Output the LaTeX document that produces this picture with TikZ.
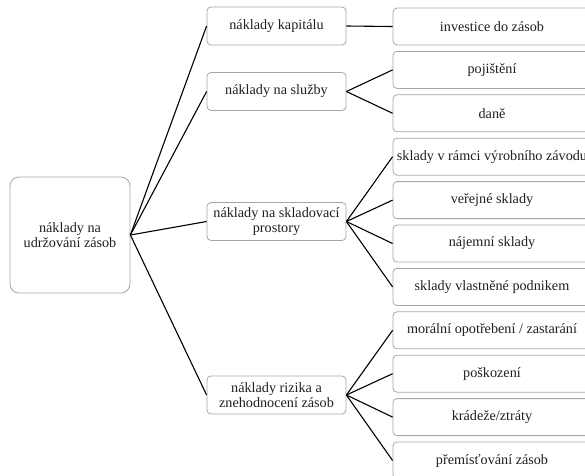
\documentclass[tikz,border=0pt]{standalone}
\usepackage{fontspec}
\setmainfont{Liberation Serif}
\begin{document}
\begin{tikzpicture}[x=1pt,y=-1pt,
  every node/.style={font=\fontsize{14.2}{15.5}\selectfont, text=black!88, align=center, inner sep=0pt},
  rootbox/.style={draw=black!35, line width=0.8pt, rounded corners=9pt, minimum width=120pt, minimum height=116pt},
  midbox/.style={draw=black!35, line width=0.8pt, rounded corners=4pt, minimum width=139pt, minimum height=38pt},
  leafbox/.style={draw=black!35, line width=0.8pt, rounded corners=4pt, minimum width=198pt, minimum height=37pt},
  link/.style={draw=black, line width=1.1pt}]
  \useasboundingbox (0,0) rectangle (585,475);
  \clip (0,0) rectangle (585,475);

  % root
  \node[rootbox] (root) at (70,235) {náklady na\\udržování zásob};

  % second level
  \node[midbox] (kap) at (276.5,26) {náklady kapitálu};
  \node[midbox] (slu) at (276.5,91.5) {náklady na služby};
  \node[midbox] (skl) at (276.5,221.5) {náklady na skladovací\\prostory};
  \node[midbox] (riz) at (276.5,395) {náklady rizika a\\znehodnocení zásob};

  % third level
  \node[leafbox] (inv) at (492,26.5) {investice do zásob};
  \node[leafbox] (poj) at (492,69.9) {pojištění};
  \node[leafbox] (dan) at (492,113.3) {daně};
  \node[leafbox] (vyr) at (492,156.7) {sklady v rámci výrobního závodu};
  \node[leafbox] (ver) at (492,200.1) {veřejné sklady};
  \node[leafbox] (naj) at (492,243.5) {nájemní sklady};
  \node[leafbox] (vla) at (492,286.9) {sklady vlastněné podnikem};
  \node[leafbox] (mor) at (492,330.3) {morální opotřebení / zastarání};
  \node[leafbox] (pos) at (492,373.7) {poškození};
  \node[leafbox] (kra) at (492,417.1) {krádeže/ztráty};
  \node[leafbox] (pre) at (492,460.5) {přemísťování zásob};

  % connectors
  \foreach \m in {kap,slu,skl,riz} \draw[link] (root.east) -- (\m.west);
  \draw[link] (kap.east) -- (inv.west);
  \foreach \l in {poj,dan} \draw[link] (slu.east) -- (\l.west);
  \foreach \l in {vyr,ver,naj,vla} \draw[link] (skl.east) -- (\l.west);
  \foreach \l in {mor,pos,kra,pre} \draw[link] (riz.east) -- (\l.west);
\end{tikzpicture}
\end{document}
